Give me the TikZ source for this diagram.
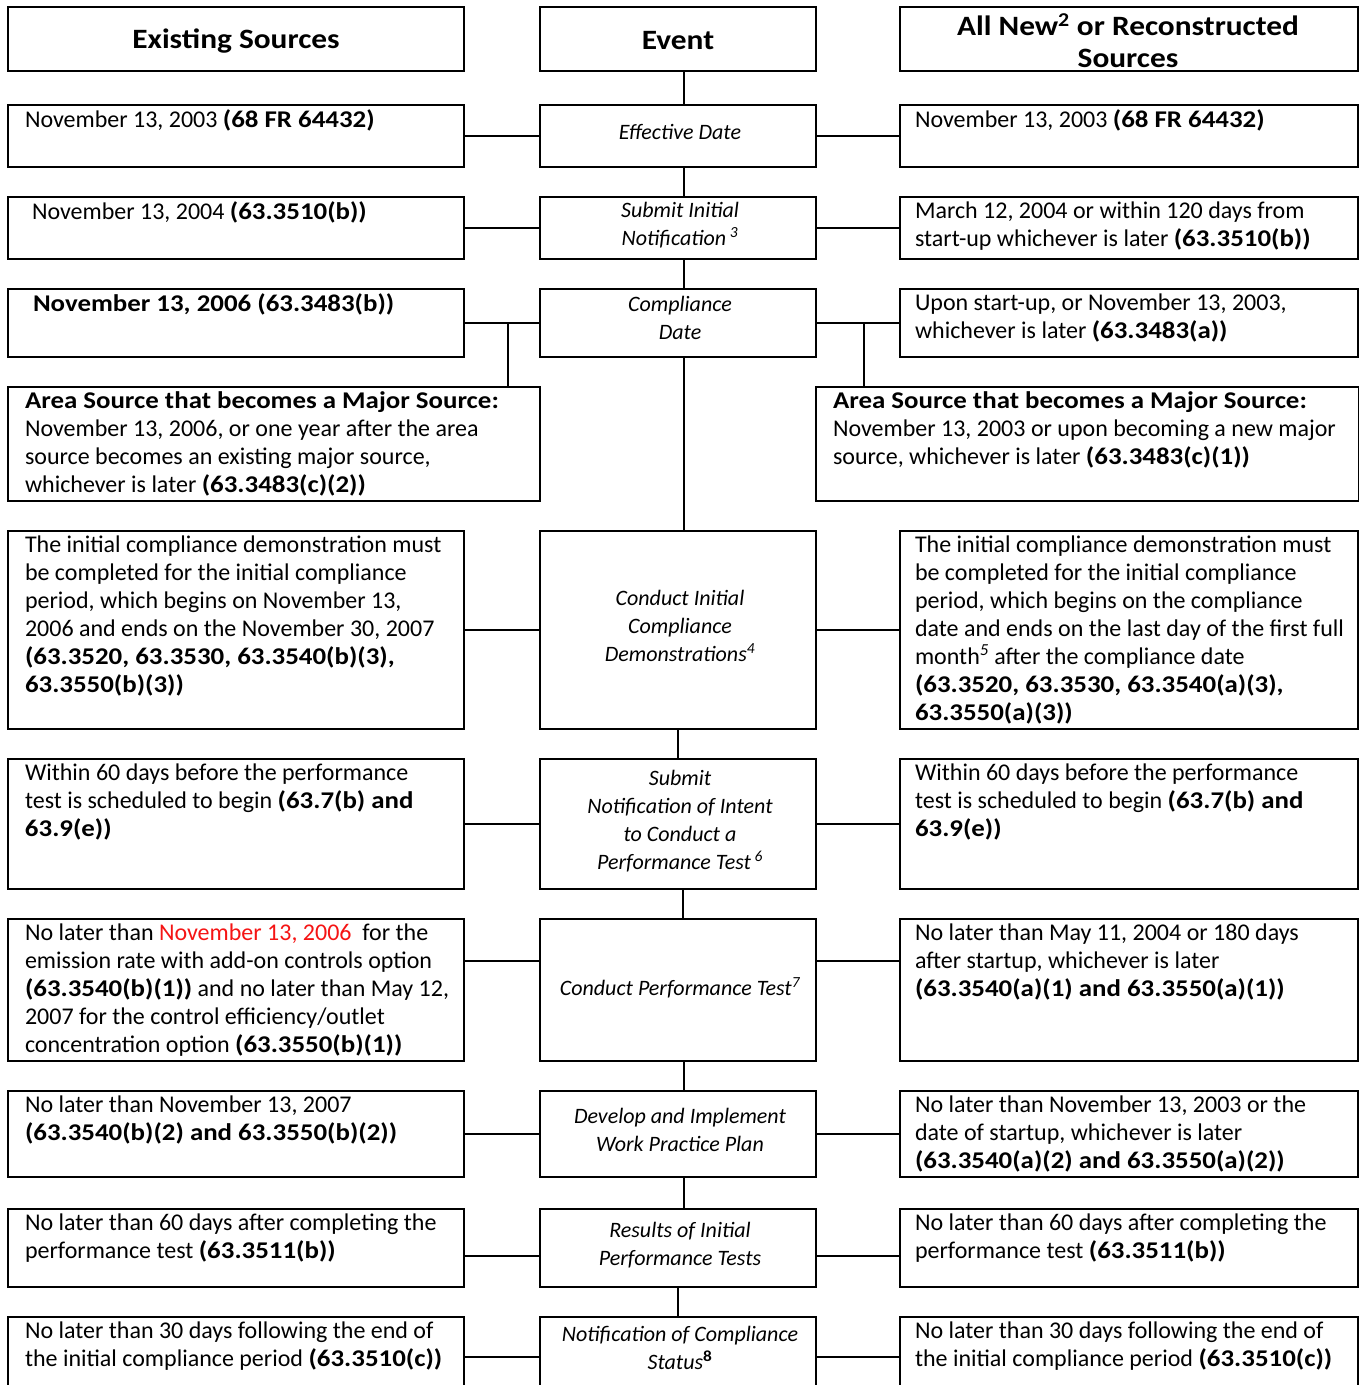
\documentclass[tikz,border=0pt]{standalone}
\usepackage{fontspec}
\setmainfont{Carlito}[BoldFeatures={FakeStretch=1.12}]
\usetikzlibrary{calc}
\definecolor{redtxt}{RGB}{245,20,20}
\newcommand\mkbox[5]{\node[box,minimum width=#4pt,minimum height=#5pt] (#1) at (#2,#3) {};}
\begin{document}
\begin{tikzpicture}[x=1pt,y=-1pt,
  box/.style={draw,line width=1.5pt,rectangle,anchor=north west,inner sep=0pt,outer sep=0pt},
  txt/.style={inner sep=0pt,outer sep=0pt,align=left,anchor=north west,yshift=-2pt,font=\fontsize{24}{28}\selectfont},
  evt/.style={inner sep=0pt,outer sep=0pt,align=center,anchor=north,yshift=-2pt,font=\fontsize{22}{28}\selectfont\itshape},
  hdr/.style={inner sep=0pt,outer sep=0pt,align=center,anchor=center,yshift=-2pt,font=\fontsize{28}{32}\selectfont\bfseries},
  link/.style={line width=1.5pt}]
\useasboundingbox (0,0) rectangle (1359,1385);
\clip (0,0) rectangle (1359,1385);
% header
\mkbox{hL}{8}{7}{456}{64}
\mkbox{hE}{540}{7}{276}{64}
\mkbox{hR}{900}{7}{458}{64}
% rows
\mkbox{L1}{8}{105}{456}{62}  \mkbox{E1}{540}{105}{276}{62}  \mkbox{R1}{900}{105}{458}{62}
\mkbox{L2}{8}{197}{456}{62}  \mkbox{E2}{540}{197}{276}{62}  \mkbox{R2}{900}{197}{458}{62}
\mkbox{L3}{8}{289}{456}{68}  \mkbox{E3}{540}{289}{276}{68}  \mkbox{R3}{900}{289}{458}{68}
\mkbox{AL}{8}{387}{532}{114} \mkbox{AR}{816}{387}{543}{114}
\mkbox{L4}{8}{531}{456}{198} \mkbox{E4}{540}{531}{276}{198} \mkbox{R4}{900}{531}{458}{198}
\mkbox{L5}{8}{759}{456}{130} \mkbox{E5}{540}{759}{276}{130} \mkbox{R5}{900}{759}{458}{130}
\mkbox{L6}{8}{919}{456}{142} \mkbox{E6}{540}{919}{276}{142} \mkbox{R6}{900}{919}{458}{142}
\mkbox{L7}{8}{1091}{456}{86} \mkbox{E7}{540}{1091}{276}{86} \mkbox{R7}{900}{1091}{458}{86}
\mkbox{L8}{8}{1209}{456}{78} \mkbox{E8}{540}{1209}{276}{78} \mkbox{R8}{900}{1209}{458}{78}
\mkbox{L9}{8}{1317}{456}{80} \mkbox{E9}{540}{1317}{276}{80} \mkbox{R9}{900}{1317}{458}{80}

% vertical spine
\draw[link] ([xshift=6pt]hE.south) -- ([xshift=6pt]E1.north);
\draw[link] ([xshift=6pt]E1.south) -- ([xshift=6pt]E2.north);
\draw[link] ([xshift=6pt]E2.south) -- ([xshift=6pt]E3.north);
\draw[link] ([xshift=6pt]E3.south) -- ([xshift=6pt]E4.north);
\draw[link] (E4.south) -- (E5.north);
\draw[link] ([xshift=5pt]E5.south) -- ([xshift=5pt]E6.north);
\draw[link] ([xshift=6pt]E6.south) -- ([xshift=6pt]E7.north);
\draw[link] ([xshift=6pt]E7.south) -- ([xshift=6pt]E8.north);
\draw[link] (E8.south) -- (E9.north);
% horizontal links
\draw[link] (L1.east) -- (E1.west); \draw[link] (E1.east) -- (R1.west);
\draw[link] (L2.east) -- (E2.west); \draw[link] (E2.east) -- (R2.west);
\draw[link] (L3.east) -- (E3.west); \draw[link] (E3.east) -- (R3.west);
\draw[link] ([xshift=-32pt]AL.north east) |- (L3.east);
\draw[link] ([xshift=48pt]AR.north west) |- (E3.east);
\draw[link] (L4.east) -- (E4.west); \draw[link] (E4.east) -- (R4.west);
\draw[link] (L5.east) -- (E5.west); \draw[link] (E5.east) -- (R5.west);
\draw[link] ([yshift=29pt]L6.east) -- ([yshift=29pt]E6.west);
\draw[link] ([yshift=29pt]E6.east) -- ([yshift=29pt]R6.west);
\draw[link] (L7.east) -- (E7.west); \draw[link] (E7.east) -- (R7.west);
\draw[link] ([yshift=-8pt]L8.east) -- ([yshift=-8pt]E8.west);
\draw[link] ([yshift=-8pt]E8.east) -- ([yshift=-8pt]R8.west);
\draw[link] (L9.east) -- (E9.west); \draw[link] (E9.east) -- (R9.west);

% header texts
\node[hdr] (thL) at (236,39) {Existing Sources};
\node[hdr] (thE) at (678,39) {Event};
\node[hdr] (thR) at (1128,39) {All New\textsuperscript{2} or Reconstructed\\Sources};

% event texts
\node[evt] (tE1) at (680,122) {Effective Date};
\node[evt] (tE2) at (680,200) {Submit Initial\\Notification\,\textsuperscript{3}};
\node[evt] (tE3) at (680,294) {Compliance\\Date};
\node[evt] (tE4) at (680,588) {Conduct Initial\\Compliance\\Demonstrations\textsuperscript{4}};
\node[evt] (tE5) at (680,768) {Submit\\Notification of Intent\\to Conduct a\\Performance Test\,\textsuperscript{6}};
\node[evt] (tE6) at (680,976) {Conduct Performance Test\textsuperscript{7}};
\node[evt] (tE7) at (680,1106) {Develop and Implement\\Work Practice Plan};
\node[evt] (tE8) at (680,1220) {Results of Initial\\Performance Tests};
\node[evt] (tE9) at (680,1324) {Notification of Compliance\\Status\textsuperscript{\upshape\bfseries 8}};

% left texts
\node[txt] (tL1) at (25,108) {November 13, 2003 \textbf{(68 FR 64432)}};
\node[txt] (tL2) at (32,200) {November 13, 2004 \textbf{(63.3510(b))}};
\node[txt] (tL3) at (33,292) {\textbf{November 13, 2006 (63.3483(b))}};
\node[txt] (tAL) at (25,390) {\textbf{Area Source that becomes a Major Source:}\\November 13, 2006, or one year after the area\\source becomes an existing major source,\\whichever is later \textbf{(63.3483(c)(2))}};
\node[txt] (tL4) at (25,534) {The initial compliance demonstration must\\be completed for the initial compliance\\period, which begins on November 13,\\2006 and ends on the November 30, 2007\\\textbf{(63.3520, 63.3530, 63.3540(b)(3),}\\\textbf{63.3550(b)(3))}};
\node[txt] (tL5) at (25,762) {Within 60 days before the performance\\test is scheduled to begin \textbf{(63.7(b) and}\\\textbf{63.9(e))}};
\node[txt] (tL6) at (25,922) {No later than \textcolor{redtxt}{November 13, 2006}\ \ for the\\emission rate with add-on controls option\\\textbf{(63.3540(b)(1))} and no later than May 12,\\2007 for the control efficiency/outlet\\concentration option \textbf{(63.3550(b)(1))}};
\node[txt] (tL7) at (25,1094) {No later than November 13, 2007\\\textbf{(63.3540(b)(2) and 63.3550(b)(2))}};
\node[txt] (tL8) at (25,1212) {No later than 60 days after completing the\\performance test \textbf{(63.3511(b))}};
\node[txt] (tL9) at (25,1320) {No later than 30 days following the end of\\the initial compliance period \textbf{(63.3510(c))}};

% right texts
\node[txt] (tR1) at (915,108) {November 13, 2003 \textbf{(68 FR 64432)}};
\node[txt] (tR2) at (915,200) {March 12, 2004 or within 120 days from\\start-up whichever is later \textbf{(63.3510(b))}};
\node[txt] (tR3) at (915,292) {Upon start-up, or November 13, 2003,\\whichever is later \textbf{(63.3483(a))}};
\node[txt] (tAR) at (833,390) {\textbf{Area Source that becomes a Major Source:}\\November 13, 2003 or upon becoming a new major\\source, whichever is later \textbf{(63.3483(c)(1))}};
\node[txt] (tR4) at (915,534) {The initial compliance demonstration must\\be completed for the initial compliance\\period, which begins on the compliance\\date and ends on the last day of the first full\\month\textsuperscript{\itshape 5} after the compliance date\\\textbf{(63.3520, 63.3530, 63.3540(a)(3),}\\\textbf{63.3550(a)(3))}};
\node[txt] (tR5) at (915,762) {Within 60 days before the performance\\test is scheduled to begin \textbf{(63.7(b) and}\\\textbf{63.9(e))}};
\node[txt] (tR6) at (915,922) {No later than May 11, 2004 or 180 days\\after startup, whichever is later\\\textbf{(63.3540(a)(1) and 63.3550(a)(1))}};
\node[txt] (tR7) at (915,1094) {No later than November 13, 2003 or the\\date of startup, whichever is later\\\textbf{(63.3540(a)(2) and 63.3550(a)(2))}};
\node[txt] (tR8) at (915,1212) {No later than 60 days after completing the\\performance test \textbf{(63.3511(b))}};
\node[txt] (tR9) at (915,1320) {No later than 30 days following the end of\\the initial compliance period \textbf{(63.3510(c))}};
\end{tikzpicture}
\end{document}
